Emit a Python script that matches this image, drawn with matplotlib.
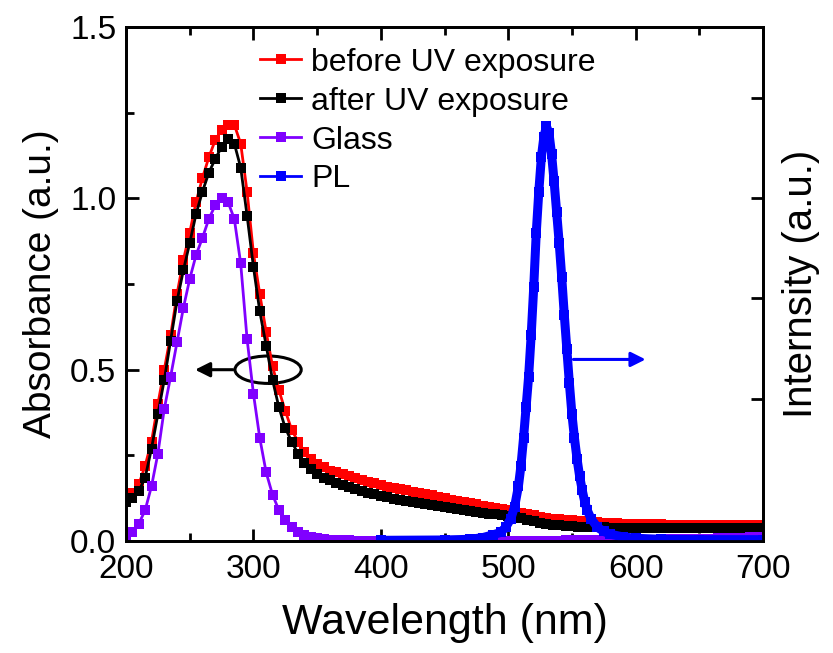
import numpy as np
import matplotlib.pyplot as plt
from matplotlib.patches import Ellipse
from matplotlib.lines import Line2D
from matplotlib.ticker import MultipleLocator

plt.rcParams['font.family'] = ['Liberation Sans', 'DejaVu Sans']

# Absorbance spectra, every 5 nm from 200 to 700 nm -----------------
wl = np.arange(200, 701, 5)

before_uv = [0.13, 0.14, 0.165, 0.22, 0.29, 0.40, 0.50, 0.60, 0.72, 0.82,
             0.90, 0.99, 1.06, 1.12, 1.17, 1.20, 1.215, 1.215, 1.16, 1.02,
             0.84, 0.72, 0.61, 0.51, 0.44, 0.38, 0.325, 0.29, 0.26, 0.24,
             0.225, 0.215, 0.205, 0.20, 0.195, 0.19, 0.183, 0.178, 0.173, 0.168,
             0.163, 0.159, 0.155, 0.151, 0.148, 0.144, 0.14, 0.136, 0.133, 0.129,
             0.125, 0.121, 0.117, 0.114, 0.11, 0.107, 0.103, 0.10, 0.097, 0.093,
             0.09, 0.086, 0.083, 0.079, 0.075, 0.071, 0.068, 0.065, 0.063, 0.061,
             0.06, 0.058, 0.057, 0.056, 0.055, 0.054, 0.053, 0.052, 0.051, 0.051,
             0.05, 0.05, 0.049, 0.049, 0.049, 0.048, 0.048, 0.048, 0.047, 0.047,
             0.047, 0.047, 0.046, 0.046, 0.046, 0.046, 0.046, 0.046, 0.046, 0.046,
             0.046]

after_uv = [0.115, 0.125, 0.145, 0.185, 0.27, 0.37, 0.47, 0.585, 0.70, 0.79,
            0.87, 0.955, 1.02, 1.075, 1.115, 1.15, 1.172, 1.16, 1.09, 0.95,
            0.80, 0.67, 0.57, 0.47, 0.39, 0.33, 0.29, 0.255, 0.228, 0.21,
            0.195, 0.185, 0.177, 0.17, 0.163, 0.157, 0.152, 0.146, 0.141, 0.136,
            0.132, 0.128, 0.124, 0.12, 0.117, 0.114, 0.111, 0.108, 0.105, 0.102,
            0.099, 0.096, 0.093, 0.09, 0.088, 0.085, 0.083, 0.08, 0.078, 0.075,
            0.072, 0.069, 0.066, 0.062, 0.058, 0.054, 0.051, 0.048, 0.046, 0.044,
            0.043, 0.042, 0.041, 0.04, 0.04, 0.04, 0.039, 0.039, 0.039, 0.039,
            0.038, 0.038, 0.038, 0.038, 0.038, 0.038, 0.038, 0.038, 0.038, 0.038,
            0.038, 0.038, 0.038, 0.038, 0.038, 0.038, 0.038, 0.038, 0.038, 0.038,
            0.038]

glass = [0.005, 0.025, 0.05, 0.09, 0.16, 0.255, 0.385, 0.48, 0.58, 0.68,
         0.765, 0.835, 0.885, 0.94, 0.98, 1.0, 0.99, 0.94, 0.81, 0.59,
         0.43, 0.30, 0.20, 0.135, 0.09, 0.06, 0.04, 0.027, 0.018, 0.012,
         0.008, 0.005, 0.004, 0.003, 0.002, 0.002, 0.001, 0.001, 0.001, 0.001,
         0.001, 0.001, 0.001, 0.001, 0.001, 0.001, 0.001, 0.001, 0.001, 0.001,
         0.001, 0.001, 0.001, 0.001, 0.001, 0.001, 0.001, 0.001, 0.001, 0.001,
         0.001, 0.001, 0.001, 0.001, 0.001, 0.001, 0.001, 0.001, 0.001, 0.002,
         0.002, 0.002, 0.002, 0.002, 0.002, 0.002, 0.003, 0.003, 0.003, 0.003,
         0.003, 0.004, 0.004, 0.004, 0.004, 0.005, 0.005, 0.005, 0.006, 0.006,
         0.006, 0.007, 0.007, 0.008, 0.008, 0.009, 0.01, 0.01, 0.011, 0.012,
         0.013]

# PL spectrum (right axis, arbitrary units) -------------------------
pl_wl = [400, 450, 470, 480, 488, 494, 498, 502, 505, 508, 510, 512, 514, 516,
         518, 520, 522, 524, 526, 528, 530, 532, 534, 536, 538, 540, 542, 544,
         546, 548, 550, 552, 554, 556, 558, 560, 562, 565, 570, 575, 580, 590,
         600, 620, 650, 700]
pl = [0.002, 0.003, 0.005, 0.01, 0.018, 0.025, 0.04, 0.065, 0.10, 0.16, 0.22,
      0.30, 0.39, 0.48, 0.60, 0.74, 0.90, 1.02, 1.12, 1.18, 1.21, 1.19, 1.13,
      1.05, 0.96, 0.87, 0.77, 0.66, 0.56, 0.46, 0.37, 0.30, 0.24, 0.19, 0.15,
      0.115, 0.09, 0.065, 0.04, 0.028, 0.02, 0.012, 0.008, 0.005, 0.004, 0.004]

labels = ["before UV exposure", "after UV exposure", "Glass", "PL"]
cores = ["#ff0000", "#000000", "#8000ff", "#0000ff"]

fig = plt.figure(figsize=(8.33, 6.53), dpi=100)
ax = fig.add_axes([0.1513, 0.1715, 0.7647, 0.787])
ax2 = ax.twinx()

estilo = dict(marker='s', markersize=6.5, markeredgewidth=0, linewidth=2)
ax.plot(wl, before_uv, color=cores[0], **estilo)
ax.plot(wl, after_uv, color=cores[1], **estilo)
ax.plot(wl, glass, color=cores[2], **estilo)
ax2.plot(pl_wl, pl, color=cores[3], marker='s', markersize=6.5,
         markeredgewidth=0, linewidth=6.5)

# Eixo horizontal
ax.set_xlim(200, 700)
ax.xaxis.set_major_locator(MultipleLocator(100))
ax.xaxis.set_minor_locator(MultipleLocator(50))
ax.set_xlabel("Wavelength (nm)", fontsize=31, labelpad=13)
# Eixo vertical
ax.set_ylim(0, 1.5)
ax.yaxis.set_major_locator(MultipleLocator(0.5))
ax.yaxis.set_minor_locator(MultipleLocator(0.25))
ax.set_ylabel("Absorbance (a.u.)", fontsize=28, labelpad=8)
ax.tick_params(which='both', direction='in', top=True, right=False,
               width=2, labelsize=24, pad=7)
ax.tick_params(axis='x', pad=9)
ax.tick_params(which='major', length=9)
ax.tick_params(which='minor', length=6)

ax2.set_ylim(0, 1.5)
ax2.set_yticks([0.415, 0.708, 1.0, 1.292])
ax2.set_yticklabels([])
ax2.tick_params(direction='in', length=9, width=2)
ax2.set_ylabel("Internsity (a.u.)", fontsize=29, labelpad=10)

for s in list(ax.spines.values()) + list(ax2.spines.values()):
    s.set_linewidth(2)

# Setas e elipse
ax.add_patch(Ellipse((311.5, 0.5), 52, 0.08, fill=False, lw=2.2, color='k'))
ax.annotate('', xy=(252, 0.5), xytext=(286, 0.5),
            arrowprops=dict(arrowstyle='-|>', color='k', lw=2.2, mutation_scale=22))
ax2.annotate('', xy=(610, 0.53), xytext=(549, 0.53),
             arrowprops=dict(arrowstyle='-|>', color=cores[3], lw=2.2, mutation_scale=22))

# Legenda (todas com linha fina e um marcador)
handles = [Line2D([], [], color=c, **estilo) for c in cores]
ax2.legend(handles, labels, loc='upper left', bbox_to_anchor=(0.21, 0.96),
           frameon=False, fontsize=23, numpoints=1, handlelength=1.3,
           handletextpad=0.3, labelspacing=0.28, borderaxespad=0, borderpad=0)

fig.savefig("out.png", dpi=100)
